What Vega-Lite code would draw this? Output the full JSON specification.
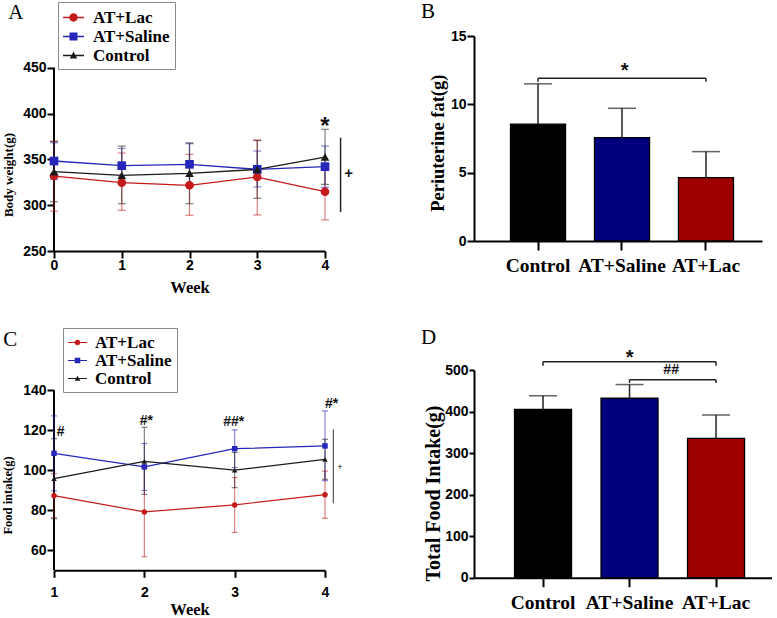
{
  "$schema": "https://vega.github.io/schema/vega-lite/v6.json",
  "background": "white",
  "padding": {"left": 1, "top": 0, "right": 0, "bottom": 0},
  "columns": 2,
  "spacing": {"row": 119, "column": 149},
  "bounds": "flush",
  "align": "each",
  "config": {
    "view": {"stroke": null},
    "axis": {"domainColor": "black", "domainWidth": 2, "tickColor": "black", "tickWidth": 2, "labelFont": "Liberation Sans", "labelFontWeight": "bold", "labelFontSize": 14, "labelColor": "black", "titleFont": "Liberation Serif", "titleFontWeight": "bold", "titleColor": "black", "grid": false, "labelOverlap": false, "labelFlush": false},
    "title": {"font": "Liberation Serif", "fontWeight": "normal", "fontSize": 21, "color": "black", "anchor": "start", "frame": "group", "baseline": "alphabetic", "offset": 0}
  },
  "datasets": {
    "bw": [
      {"week": 0, "group": "AT+Lac", "mean": 331.8, "lo": 293.6, "hi": 370},
      {"week": 1, "group": "AT+Lac", "mean": 324.6, "lo": 294.4, "hi": 356.9},
      {"week": 2, "group": "AT+Lac", "mean": 321.7, "lo": 289, "hi": 355.5},
      {"week": 3, "group": "AT+Lac", "mean": 330.7, "lo": 289.3, "hi": 371.2},
      {"week": 4, "group": "AT+Lac", "mean": 314.7, "lo": 283.9, "hi": 345.5},
      {"week": 0, "group": "AT+Saline", "mean": 348.2, "lo": 328, "hi": 368},
      {"week": 1, "group": "AT+Saline", "mean": 343.1, "lo": 324, "hi": 362},
      {"week": 2, "group": "AT+Saline", "mean": 344.6, "lo": 321.6, "hi": 367.1},
      {"week": 3, "group": "AT+Saline", "mean": 339.1, "lo": 319.9, "hi": 359.1},
      {"week": 4, "group": "AT+Saline", "mean": 342, "lo": 319.4, "hi": 364.6},
      {"week": 0, "group": "Control", "mean": 336.6, "lo": 303.8, "hi": 369.4},
      {"week": 1, "group": "Control", "mean": 332.6, "lo": 301.6, "hi": 364.5},
      {"week": 2, "group": "Control", "mean": 334.8, "lo": 301.6, "hi": 368},
      {"week": 3, "group": "Control", "mean": 339, "lo": 307.5, "hi": 370.5},
      {"week": 4, "group": "Control", "mean": 352.5, "lo": 322.7, "hi": 382.8}
    ],
    "fi": [
      {"week": 1, "group": "AT+Lac", "mean": 87.3, "lo": 76.3, "hi": 98.3},
      {"week": 2, "group": "AT+Lac", "mean": 79.2, "lo": 56.8, "hi": 101.6},
      {"week": 3, "group": "AT+Lac", "mean": 82.7, "lo": 68.9, "hi": 96.4},
      {"week": 4, "group": "AT+Lac", "mean": 87.8, "lo": 76, "hi": 99.6},
      {"week": 1, "group": "AT+Saline", "mean": 108.5, "lo": 89.8, "hi": 127.2},
      {"week": 2, "group": "AT+Saline", "mean": 101.7, "lo": 89.9, "hi": 113.4},
      {"week": 3, "group": "AT+Saline", "mean": 110.8, "lo": 101.4, "hi": 120.2},
      {"week": 4, "group": "AT+Saline", "mean": 112.2, "lo": 94.8, "hi": 129.7},
      {"week": 1, "group": "Control", "mean": 95.8, "lo": 75.8, "hi": 115.8},
      {"week": 2, "group": "Control", "mean": 104.5, "lo": 88, "hi": 121.5},
      {"week": 3, "group": "Control", "mean": 100.1, "lo": 91.3, "hi": 108.9},
      {"week": 4, "group": "Control", "mean": 105.5, "lo": 95.5, "hi": 115.5}
    ],
    "fat": [
      {"group": "Control", "mean": 8.55, "hi": 11.5},
      {"group": "AT+Saline", "mean": 7.56, "hi": 9.71},
      {"group": "AT+Lac", "mean": 4.63, "hi": 6.54}
    ],
    "tfi": [
      {"group": "Control", "mean": 405, "hi": 438},
      {"group": "AT+Saline", "mean": 432, "hi": 465},
      {"group": "AT+Lac", "mean": 335.5, "hi": 391.7}
    ],
    "bwStar": [{"week": 4, "g": 378, "label": "*"}],
    "bwPlus": [{"week": 4.35, "g": 334.7, "label": "+"}],
    "bwLine": [{"week": 4.23, "lo": 292.6, "hi": 373.6}],
    "fiNote": [
      {"week": 1.074, "g": 117.3, "label": "#"},
      {"week": 2.022, "g": 122.5, "label": "#*"},
      {"week": 2.99, "g": 122.15, "label": "##*"},
      {"week": 4.074, "g": 131.3, "label": "#*"}
    ],
    "fiPlus": [{"week": 4.166, "g": 101.8, "label": "+"}],
    "fiLine": [{"week": 4.092, "lo": 83.5, "hi": 120.5}],
    "fatBracket": [{"from": "Control", "to": "AT+Lac", "y": 11.9}],
    "fatEnds": [{"g": "Control", "lo": 11.65, "hi": 11.9}, {"g": "AT+Lac", "lo": 11.65, "hi": 11.9}],
    "fatStar": [{"g": "AT+Saline", "y": 11.99, "label": "*"}],
    "tfiBracket": [{"from": "Control", "to": "AT+Lac", "y": 520}, {"from": "AT+Saline", "to": "AT+Lac", "y": 476.7}],
    "tfiEnds": [{"g": "Control", "lo": 510, "hi": 520}, {"g": "AT+Lac", "lo": 510, "hi": 520}, {"g": "AT+Saline", "lo": 469, "hi": 476.7}, {"g": "AT+Lac", "lo": 469, "hi": 476.7}],
    "tfiStar": [{"g": "AT+Saline", "y": 513.5, "label": "*"}],
    "tfiHash": [{"g": "AT+Saline", "y": 489.7, "label": "##"}]
  },
  "concat": [
    {
      "width": 271,
      "height": 215,
      "title": {"text": "A", "dx": -45.7, "dy": 25.3},
      "resolve": {"scale": {"shape": "independent"}, "legend": {"color": "independent", "shape": "independent"}},
      "layer": [
        {
          "data": {"values": [{}]},
          "mark": {"type": "rule", "strokeWidth": 2, "color": "black"},
          "encoding": {"x": {"datum": 0, "type": "quantitative"}, "y": {"datum": 250, "type": "quantitative"}, "y2": {"datum": 450}}
        },
        {
          "data": {"name": "bw"},
          "mark": {"type": "errorbar", "thickness": 1.2, "ticks": {"size": 8, "opacity": 0.55}, "rule": {"opacity": 0.55}},
          "encoding": {"x": {"field": "week", "type": "quantitative", "title": "Week"}, "y": {"field": "lo", "type": "quantitative", "title": "Body weight(g)"}, "y2": {"field": "hi"}, "color": {"field": "group", "type": "nominal", "legend": null}}
        },
        {
          "data": {"name": "bw"},
          "mark": {"type": "line", "strokeWidth": 1.3},
          "encoding": {
            "x": {"field": "week", "type": "quantitative", "scale": {"domain": [0, 4], "nice": false, "zero": false}, "axis": {"values": [0, 1, 2, 3, 4], "format": "d", "title": "Week", "titleFontSize": 16.5, "titlePadding": 7, "tickSize": 7, "labelPadding": 0}},
            "y": {"field": "mean", "type": "quantitative", "scale": {"domain": [250, 484.6], "nice": false, "zero": false}, "axis": {"values": [250, 275, 300, 325, 350, 375, 400, 425, 450], "labelExpr": "datum.value % 50 === 0 ? datum.label : ''", "tickSize": {"condition": {"test": "datum.value % 50 !== 0", "value": 4}, "value": 7}, "domain": false, "title": "Body weight(g)", "titleFontSize": 13, "titleX": -45.7, "titleY": 138.5, "titleBaseline": "middle", "titleAlign": "center", "titleAngle": -90, "labelPadding": 1}},
            "color": {"field": "group", "type": "nominal", "scale": {"domain": ["AT+Lac", "AT+Saline", "Control"], "range": ["#c41a1a", "#2626b8", "#1a1a1a"]}, "legend": null}
          }
        },
        {
          "data": {"name": "bw"},
          "mark": {"type": "point", "filled": true, "opacity": 0},
          "encoding": {
            "x": {"field": "week", "type": "quantitative"},
            "y": {"field": "mean", "type": "quantitative"},
            "color": {"field": "group", "type": "nominal", "legend": {
              "orient": "none", "legendX": 4, "legendY": -34, "title": null,
              "strokeColor": "#888888", "fillColor": "white", "padding": 5,
              "labelFont": "Liberation Serif", "labelFontWeight": "bold", "labelFontSize": 17, "labelColor": "black",
              "labelOffset": 9, "rowPadding": -1, "symbolSize": 441, "symbolStrokeWidth": 0, "symbolOpacity": 1
            }},
            "shape": {"field": "group", "type": "nominal", "scale": {"domain": ["AT+Lac", "AT+Saline", "Control"], "range": [
              "M-1,-0.065H1V0.065H-1Z M-0.4,0A0.4,0.4,0,1,1,0.4,0A0.4,0.4,0,1,1,-0.4,0Z",
              "M-1,-0.065H1V0.065H-1Z M-0.38,-0.38H0.38V0.38H-0.38Z",
              "M-1,-0.065H1V0.065H-1Z M0,-0.36L0.36,0.28H-0.36Z"
            ]}, "legend": {
              "orient": "none", "legendX": 4, "legendY": -34, "title": null,
              "strokeColor": "#888888", "fillColor": "white", "padding": 5,
              "labelFont": "Liberation Serif", "labelFontWeight": "bold", "labelFontSize": 17, "labelColor": "black",
              "labelOffset": 9, "rowPadding": -1, "symbolSize": 441, "symbolStrokeWidth": 0, "symbolOpacity": 1
            }}
          }
        },
        {
          "data": {"name": "bw"},
          "mark": {"type": "point", "filled": true, "opacity": 1, "size": 75},
          "encoding": {
            "x": {"field": "week", "type": "quantitative"},
            "y": {"field": "mean", "type": "quantitative"},
            "shape": {"field": "group", "type": "nominal", "scale": {"domain": ["AT+Lac", "AT+Saline", "Control"], "range": ["circle", "square", "triangle-up"]}, "legend": null},
            "color": {"field": "group", "type": "nominal", "legend": null}
          }
        },
        {
          "data": {"name": "bwLine"},
          "mark": {"type": "rule", "strokeWidth": 1.5, "color": "#222222"},
          "encoding": {"x": {"field": "week", "type": "quantitative"}, "y": {"field": "lo", "type": "quantitative"}, "y2": {"field": "hi"}}
        },
        {
          "data": {"name": "bwStar"},
          "mark": {"type": "text", "font": "Liberation Sans", "fontWeight": "bold", "fontSize": 24, "baseline": "alphabetic", "align": "center", "color": "#111111"},
          "encoding": {"x": {"field": "week", "type": "quantitative"}, "y": {"field": "g", "type": "quantitative"}, "text": {"field": "label"}}
        },
        {
          "data": {"name": "bwPlus"},
          "mark": {"type": "text", "font": "Liberation Sans", "fontWeight": "bold", "fontSize": 15, "baseline": "middle", "align": "center", "color": "#111111"},
          "encoding": {"x": {"field": "week", "type": "quantitative"}, "y": {"field": "g", "type": "quantitative"}, "text": {"field": "label"}}
        }
      ]
    },
    {
      "width": 288,
      "height": 205,
      "title": {"text": "B", "dx": -53, "dy": -3.4},
      "layer": [
        {
          "data": {"name": "fat"},
          "mark": {"type": "bar", "stroke": "black", "strokeWidth": 1.3},
          "encoding": {
            "x": {"field": "group", "type": "nominal", "scale": {"type": "band", "domain": ["Control", "AT+Saline", "AT+Lac"], "paddingInner": 0.345, "paddingOuter": 0.387, "align": 0.5615}, "axis": {"title": null, "tickSize": 9, "labelPadding": 6, "labelFont": "Liberation Serif", "labelFontSize": 19.5, "labelAngle": 0}},
            "y": {"field": "mean", "type": "quantitative", "scale": {"domain": [0, 15], "nice": false}, "axis": {"values": [0, 5, 10, 15], "title": "Periuterine fat(g)", "titleFontSize": 18.5, "titleX": -36.7, "titleY": 106.7, "titleBaseline": "middle", "titleAlign": "center", "titleAngle": -90, "tickSize": 7, "labelPadding": 1}},
            "fill": {"field": "group", "type": "nominal", "scale": {"domain": ["Control", "AT+Saline", "AT+Lac"], "range": ["#000000", "#00007f", "#9e0000"]}, "legend": null}
          }
        },
        {
          "data": {"name": "fat"},
          "mark": {"type": "rule", "color": "#222222", "strokeWidth": 1.5},
          "encoding": {"x": {"field": "group", "type": "nominal"}, "y": {"field": "mean", "type": "quantitative"}, "y2": {"field": "hi"}}
        },
        {
          "data": {"name": "fat"},
          "mark": {"type": "tick", "orient": "horizontal", "size": 28, "thickness": 1.5, "color": "#222222"},
          "encoding": {"x": {"field": "group", "type": "nominal"}, "y": {"field": "hi", "type": "quantitative"}}
        },
        {
          "data": {"name": "fatBracket"},
          "mark": {"type": "rule", "color": "#222222", "strokeWidth": 1.5},
          "encoding": {"x": {"field": "from", "type": "nominal", "bandPosition": 0.5}, "x2": {"field": "to", "bandPosition": 0.5}, "y": {"field": "y", "type": "quantitative"}}
        },
        {
          "data": {"name": "fatEnds"},
          "mark": {"type": "rule", "color": "#222222", "strokeWidth": 1.5},
          "encoding": {"x": {"field": "g", "type": "nominal"}, "y": {"field": "lo", "type": "quantitative"}, "y2": {"field": "hi"}}
        },
        {
          "data": {"name": "fatStar"},
          "mark": {"type": "text", "font": "Liberation Sans", "fontWeight": "bold", "fontSize": 20, "baseline": "alphabetic", "align": "center", "color": "#111111"},
          "encoding": {"x": {"field": "g", "type": "nominal", "bandPosition": 0.55}, "y": {"field": "y", "type": "quantitative"}, "text": {"field": "label"}}
        }
      ]
    },
    {
      "width": 271,
      "height": 200.3,
      "title": {"text": "C", "dx": -50.7, "dy": 26.4},
      "resolve": {"scale": {"shape": "independent"}, "legend": {"color": "independent", "shape": "independent"}},
      "layer": [
        {
          "data": {"values": [{}]},
          "mark": {"type": "rule", "strokeWidth": 2, "color": "black"},
          "encoding": {"x": {"datum": 1, "type": "quantitative"}, "y": {"datum": 50, "type": "quantitative"}, "y2": {"datum": 140}}
        },
        {
          "data": {"name": "fi"},
          "mark": {"type": "errorbar", "thickness": 1.1, "ticks": {"size": 6, "opacity": 0.6}, "rule": {"opacity": 0.6}},
          "encoding": {"x": {"field": "week", "type": "quantitative", "title": "Week"}, "y": {"field": "lo", "type": "quantitative", "title": "Food intake(g)"}, "y2": {"field": "hi"}, "color": {"field": "group", "type": "nominal", "legend": null}}
        },
        {
          "data": {"name": "fi"},
          "mark": {"type": "line", "strokeWidth": 1.2},
          "encoding": {
            "x": {"field": "week", "type": "quantitative", "scale": {"domain": [1, 4], "nice": false, "zero": false}, "axis": {"values": [1, 2, 3, 4], "format": "d", "title": "Week", "titleFontSize": 16.5, "titlePadding": 2, "tickSize": 7, "labelPadding": 7.7}},
            "y": {"field": "mean", "type": "quantitative", "scale": {"domain": [50, 150.15], "nice": false, "zero": false}, "axis": {"values": [60, 80, 100, 120, 140], "domain": false, "title": "Food intake(g)", "titleFontSize": 12.5, "titleX": -46.5, "titleY": 125, "titleBaseline": "middle", "titleAlign": "center", "titleAngle": -90, "tickSize": 7, "labelPadding": 1}},
            "color": {"field": "group", "type": "nominal", "scale": {"domain": ["AT+Lac", "AT+Saline", "Control"], "range": ["#c41a1a", "#2626b8", "#1a1a1a"]}, "legend": null}
          }
        },
        {
          "data": {"name": "fi"},
          "mark": {"type": "point", "filled": true, "opacity": 0},
          "encoding": {
            "x": {"field": "week", "type": "quantitative"},
            "y": {"field": "mean", "type": "quantitative"},
            "color": {"field": "group", "type": "nominal", "legend": {
              "orient": "none", "legendX": 9, "legendY": -42, "title": null,
              "strokeColor": "#888888", "fillColor": "white", "padding": 5,
              "labelFont": "Liberation Serif", "labelFontWeight": "bold", "labelFontSize": 17, "labelColor": "black",
              "labelOffset": 8, "rowPadding": -0.5, "symbolSize": 361, "symbolStrokeWidth": 0, "symbolOpacity": 1
            }},
            "shape": {"field": "group", "type": "nominal", "scale": {"domain": ["AT+Lac", "AT+Saline", "Control"], "range": [
              "M-1,-0.063H1V0.063H-1Z M-0.3,0A0.3,0.3,0,1,1,0.3,0A0.3,0.3,0,1,1,-0.3,0Z",
              "M-1,-0.063H1V0.063H-1Z M-0.29,-0.29H0.29V0.29H-0.29Z",
              "M-1,-0.063H1V0.063H-1Z M0,-0.3L0.3,0.24H-0.3Z"
            ]}, "legend": {
              "orient": "none", "legendX": 9, "legendY": -42, "title": null,
              "strokeColor": "#888888", "fillColor": "white", "padding": 5,
              "labelFont": "Liberation Serif", "labelFontWeight": "bold", "labelFontSize": 17, "labelColor": "black",
              "labelOffset": 8, "rowPadding": -0.5, "symbolSize": 361, "symbolStrokeWidth": 0, "symbolOpacity": 1
            }}
          }
        },
        {
          "data": {"name": "fi"},
          "mark": {"type": "point", "filled": true, "opacity": 1, "size": 30},
          "encoding": {
            "x": {"field": "week", "type": "quantitative"},
            "y": {"field": "mean", "type": "quantitative"},
            "shape": {"field": "group", "type": "nominal", "scale": {"domain": ["AT+Lac", "AT+Saline", "Control"], "range": ["circle", "square", "triangle-up"]}, "legend": null},
            "color": {"field": "group", "type": "nominal", "legend": null}
          }
        },
        {
          "data": {"name": "fiLine"},
          "mark": {"type": "rule", "strokeWidth": 1, "color": "#333333"},
          "encoding": {"x": {"field": "week", "type": "quantitative"}, "y": {"field": "lo", "type": "quantitative"}, "y2": {"field": "hi"}}
        },
        {
          "data": {"name": "fiNote"},
          "mark": {"type": "text", "font": "Liberation Sans", "fontWeight": "bold", "fontSize": 14, "baseline": "alphabetic", "align": "center", "color": "#111111"},
          "encoding": {"x": {"field": "week", "type": "quantitative"}, "y": {"field": "g", "type": "quantitative"}, "text": {"field": "label"}}
        },
        {
          "data": {"name": "fiPlus"},
          "mark": {"type": "text", "font": "Liberation Sans", "fontSize": 9, "baseline": "middle", "align": "center", "color": "#111111"},
          "encoding": {"x": {"field": "week", "type": "quantitative"}, "y": {"field": "g", "type": "quantitative"}, "text": {"field": "label"}}
        }
      ]
    },
    {
      "width": 298,
      "height": 207.7,
      "title": {"text": "D", "dx": -53, "dy": 3.7},
      "layer": [
        {
          "data": {"name": "tfi"},
          "mark": {"type": "bar", "stroke": "black", "strokeWidth": 1.3},
          "encoding": {
            "x": {"field": "group", "type": "nominal", "scale": {"type": "band", "domain": ["Control", "AT+Saline", "AT+Lac"], "paddingInner": 0.341, "paddingOuter": 0.393, "align": 0.596}, "axis": {"title": null, "tickSize": 9, "labelPadding": 7, "labelFont": "Liberation Serif", "labelFontSize": 19.5, "labelAngle": 0}},
            "y": {"field": "mean", "type": "quantitative", "scale": {"domain": [0, 500], "nice": false}, "axis": {"values": [0, 100, 200, 300, 400, 500], "title": "Total Food Intake(g)", "titleFontSize": 20, "titleX": -41, "titleY": 123, "titleBaseline": "middle", "titleAlign": "center", "titleAngle": -90, "tickSize": 5, "labelPadding": 1}},
            "fill": {"field": "group", "type": "nominal", "scale": {"domain": ["Control", "AT+Saline", "AT+Lac"], "range": ["#000000", "#00007f", "#9e0000"]}, "legend": null}
          }
        },
        {
          "data": {"name": "tfi"},
          "mark": {"type": "rule", "color": "#222222", "strokeWidth": 1.5},
          "encoding": {"x": {"field": "group", "type": "nominal"}, "y": {"field": "mean", "type": "quantitative"}, "y2": {"field": "hi"}}
        },
        {
          "data": {"name": "tfi"},
          "mark": {"type": "tick", "orient": "horizontal", "size": 28, "thickness": 1.5, "color": "#222222"},
          "encoding": {"x": {"field": "group", "type": "nominal"}, "y": {"field": "hi", "type": "quantitative"}}
        },
        {
          "data": {"name": "tfiBracket"},
          "mark": {"type": "rule", "color": "#222222", "strokeWidth": 1.5},
          "encoding": {"x": {"field": "from", "type": "nominal", "bandPosition": 0.5}, "x2": {"field": "to", "bandPosition": 0.5}, "y": {"field": "y", "type": "quantitative"}}
        },
        {
          "data": {"name": "tfiEnds"},
          "mark": {"type": "rule", "color": "#222222", "strokeWidth": 1.5},
          "encoding": {"x": {"field": "g", "type": "nominal"}, "y": {"field": "lo", "type": "quantitative"}, "y2": {"field": "hi"}}
        },
        {
          "data": {"name": "tfiStar"},
          "mark": {"type": "text", "font": "Liberation Sans", "fontWeight": "bold", "fontSize": 20, "baseline": "alphabetic", "align": "center", "color": "#111111"},
          "encoding": {"x": {"field": "g", "type": "nominal", "bandPosition": 0.5}, "y": {"field": "y", "type": "quantitative"}, "text": {"field": "label"}}
        },
        {
          "data": {"name": "tfiHash"},
          "mark": {"type": "text", "font": "Liberation Sans", "fontWeight": "bold", "fontSize": 14, "baseline": "alphabetic", "align": "center", "color": "#111111"},
          "encoding": {"x": {"field": "g", "type": "nominal", "bandPosition": 1.23}, "y": {"field": "y", "type": "quantitative"}, "text": {"field": "label"}}
        }
      ]
    }
  ]
}
